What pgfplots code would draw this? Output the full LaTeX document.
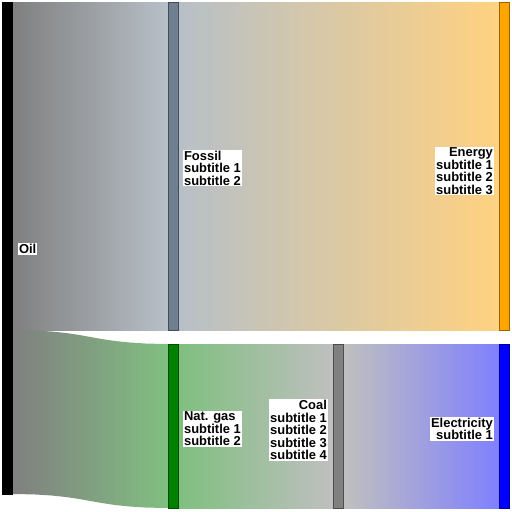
\documentclass[border=0pt]{standalone}
\usepackage{pgfplots}
\pgfplotsset{compat=1.18}
\usepackage{fontspec}
\setmainfont{Liberation Sans}
\definecolor{slate}{RGB}{112,128,144}
\definecolor{myorange}{RGB}{255,165,0}
\definecolor{mygreen}{RGB}{0,128,0}
\definecolor{mygray}{RGB}{128,128,128}
\definecolor{myblue}{RGB}{0,0,255}
\tikzset{lbl/.style={font=\fontsize{9.7}{9.4}\selectfont\bfseries, fill=white, inner sep=0.6pt}}
\begin{document}
\begin{tikzpicture}
\begin{axis}[
  width=384pt, height=384pt, scale only axis,
  xmin=0, xmax=512, ymin=0, ymax=512, y dir=reverse,
  hide axis, clip=false,
]
% invisible frame so the picture covers the whole plot area
\addplot[draw=none, forget plot] coordinates {(0,0) (512,512)};
% flows
\addplot[draw=none, left color=black!50, right color=slate!50!white] coordinates {(13,2) (168,2) (168,330) (13,330)} -- cycle;
\addplot[draw=none, left color=black!50, right color=mygreen!50!white] coordinates {
 (13,330) (34.1,330.4) (51.4,331.5) (66.0,333.0) (78.7,334.9) (90.5,337) (102.3,339.1) (115.0,341.0) (129.6,342.5) (146.9,343.6) (168,344)
 (168,508) (146.9,507.6) (129.6,506.5) (115.0,505.0) (102.3,503.1) (90.5,501) (78.7,498.9) (66.0,497.0) (51.4,495.5) (34.1,494.4) (13,494)} -- cycle;
\addplot[draw=none, left color=slate!50!white, right color=myorange!50!white] coordinates {(179,2) (499,2) (499,330) (179,330)} -- cycle;
\addplot[draw=none, left color=mygreen!50!white, right color=mygray!50!white] coordinates {(179,344) (333,344) (333,508) (179,508)} -- cycle;
\addplot[draw=none, left color=mygray!50!white, right color=myblue!50!white] coordinates {(344,344) (499,344) (499,508) (344,508)} -- cycle;
% nodes
\addplot[fill=black, draw=black] coordinates {(2.5,2.5) (12.5,2.5) (12.5,494) (2.5,494)} -- cycle;
\addplot[fill=slate, draw=slate!60!black] coordinates {(168.5,2.5) (178.5,2.5) (178.5,330) (168.5,330)} -- cycle;
\addplot[fill=myorange, draw=myorange!60!black] coordinates {(499,2.5) (509,2.5) (509,330) (499,330)} -- cycle;
\addplot[fill=mygreen, draw=mygreen!60!black] coordinates {(168.5,344.5) (178.5,344.5) (178.5,508) (168.5,508)} -- cycle;
\addplot[fill=mygray, draw=mygray!60!black] coordinates {(333.5,344.5) (343.5,344.5) (343.5,508) (333.5,508)} -- cycle;
\addplot[fill=myblue, draw=myblue!60!black] coordinates {(499,344.5) (509,344.5) (509,508) (499,508)} -- cycle;
% labels
\node[lbl, anchor=west] at (axis cs:18,249) {Oil};
\node[lbl, anchor=west, align=left] at (axis cs:183,168) {Fossil\\subtitle 1\\subtitle 2};
\node[lbl, anchor=east, align=right] at (axis cs:494,171) {Energy\\subtitle 1\\subtitle 2\\subtitle 3};
\node[lbl, anchor=west, align=left] at (axis cs:183,429) {Nat. gas\\subtitle 1\\subtitle 2};
\node[lbl, anchor=east, align=right] at (axis cs:328,430) {Coal\\subtitle 1\\subtitle 2\\subtitle 3\\subtitle 4};
\node[lbl, anchor=east, align=right] at (axis cs:494,429) {Electricity\\subtitle 1};
\end{axis}
\end{tikzpicture}
\end{document}
